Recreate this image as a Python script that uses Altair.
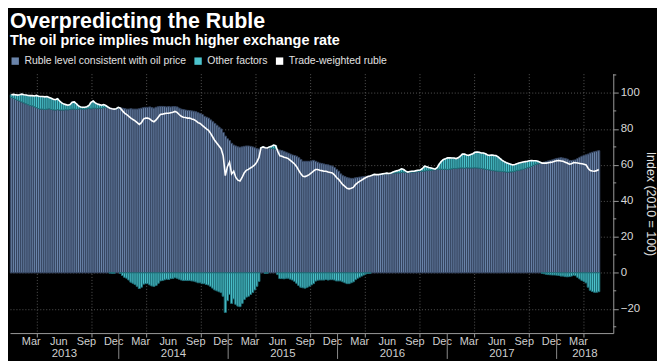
import altair as alt
import pandas as pd

# Weekly readings (Jan 2013 - May 2018)
ruble = [
    99, 99.2, 99, 98.8, 99,
    99.3, 99, 98.8, 98.6, 98.5,
    98.5, 98.3, 98.6, 98.2, 98,
    98, 97.8, 98, 97.5, 97,
    96.5, 96.2, 96.8, 95.5, 94.5,
    93.8, 93.5, 93.2, 93.6, 94.8,
    95, 94, 92.8, 92.2, 92,
    92, 92.3, 93, 94.8, 95.5,
    94.5, 93.8, 93.5, 93.2, 93.5,
    93, 92.2, 91.5, 91.2, 91,
    91.2, 92, 91.5, 90, 88.8,
    88, 87, 86, 85.2, 84.5,
    83.5, 82.5, 83.5, 85.5, 86,
    86, 85.5, 84.5, 84, 85,
    86.5, 88, 88.2, 88.5, 88.7,
    88.7, 89, 89.3, 89.7, 89.2,
    88, 87, 86.5, 86.3, 86,
    86, 85.5, 85.2, 84.5, 83.5,
    83, 82, 81, 80, 79.2,
    77.5, 75.5, 73.5, 72, 70.5,
    69, 65, 54, 59, 61.5,
    55, 56.5, 53, 51.5, 51,
    53, 55.5, 57, 57.5, 58.3,
    59, 60, 61.5, 64, 69.5,
    70, 69.5, 69.4, 70, 70.3,
    71, 70.7, 67.5, 65, 64.8,
    64.2, 64, 63.5, 62.5, 61.5,
    60.5, 59, 57, 55, 53.7,
    53.5, 54, 54.6, 55.5, 56.5,
    57.4, 57.4, 57, 56.8, 56.5,
    56.5, 56, 55.8, 55.5, 54.5,
    53, 52, 50.5, 49, 48,
    47, 46.7, 47, 47.5, 49,
    50, 50.8, 51.5, 52.3, 53,
    53.5, 53.8, 54.2, 54.7, 54.6,
    54.6, 54.8, 55, 55.2, 55.4,
    55.2, 55.5, 56, 56.5, 56.8,
    57.2, 57.8, 57.4, 56.5, 56,
    56.3, 56.5, 56.5, 56.8, 57,
    57.2, 58, 59.3, 59, 58.6,
    58.3, 58, 57.6, 58.5, 60.5,
    62, 63, 63.4, 63.9, 64,
    63.8, 63.8, 63.5, 63.9, 64.8,
    66, 66, 65.5, 65.3, 65.8,
    66.2, 67, 67.2, 67, 66.6,
    66.6, 66.2, 65.5, 65.3, 65.5,
    65.3, 65.2, 64.5, 63.5, 62.5,
    61.8, 61.2, 60.8, 60.4, 60,
    60.2, 60.6, 61, 61.3, 61.6,
    61.8, 62, 62.3, 62.4, 62.3,
    62.3, 62, 61.5, 61, 61,
    61, 61.2, 61.4, 61.6, 62,
    62.3, 62.4, 62.2, 62, 61.5,
    61, 60.4, 60.6, 61.3, 61.2,
    61, 60.8, 60.6, 60.4, 60,
    58, 56.9, 56.6, 56.5, 56.8,
    57.4,
]

oil_level = [
    97.5, 97, 96.5, 96, 95.5,
    95, 94.5, 94, 93.5, 93,
    92.8, 92.3, 91.8, 91.3, 91,
    91, 90.8, 91, 91.2, 90.8,
    90.6, 90.5, 90.7, 90.5, 90.5,
    90.5, 90.7, 90.6, 90.8, 91,
    91, 90.8, 91, 91.2, 91,
    91, 91.2, 91.4, 91.2, 91.5,
    91.5, 91.3, 91.6, 91.5, 91.8,
    92, 91.8, 91.6, 91.4, 91.2,
    91.2, 91.5, 91.8, 91.5, 91.3,
    91, 91, 91.2, 91, 91,
    91, 91.2, 91.5, 91.8, 92,
    92, 92.2, 91.8, 91.5, 92,
    92.3, 92.5, 92.5, 92.4, 92.2,
    92.4, 92.2, 92.4, 92.4, 92.2,
    91.5, 91, 90.8, 90.5, 90.3,
    90.2, 90, 89.8, 89.5, 89,
    88.5, 88, 87, 86.5, 86,
    85, 84, 83, 82, 81,
    80, 78, 76, 74.5, 73.5,
    72, 71, 70.5, 70, 69.8,
    70, 70.3, 70.5, 70.5, 70.3,
    70, 69.5, 69, 68.8, 69.5,
    69.8, 69.8, 69.6, 69.5, 69.2,
    69, 68.8, 68.5, 68.2, 68,
    67.5, 67, 66.5, 66, 65.5,
    65.2, 64.8, 64, 63, 62,
    62, 62, 62, 62.2, 62.5,
    62, 61.5, 61, 60.8, 60.5,
    60.2, 60, 59.6, 59.3, 58.5,
    57.5, 56.5, 55, 54, 53.5,
    53, 52.7, 52.5, 52.5, 52.8,
    53, 53.2, 53.3, 53.5, 53.6,
    53.8, 54, 54.2, 54.5, 54.6,
    54.6, 54.7, 54.8, 55, 55.1,
    55.1, 55.2, 55.4, 55.5, 55.6,
    55.6, 55.8, 56, 55.8, 55.6,
    55.8, 56, 56, 56.2, 56.3,
    56.5, 56.5, 56.6, 56.8, 57,
    57, 57.2, 57.3, 57.5, 57.6,
    57.6, 57.5, 57.6, 57.4, 57.6,
    57.8, 58, 58, 58.2, 58.3,
    58.3, 58.2, 58.4, 58.3, 58.3,
    58.3, 58.4, 58.3, 58.2, 58,
    57.8, 57.6, 57.4, 57.2, 57,
    56.8, 56.6, 56.5, 56.4, 56.3,
    56.2, 56, 56, 56.1, 56.2,
    56.5, 56.8, 57, 57.3, 57.6,
    58, 58.4, 58.7, 59.2, 59.8,
    60.3, 60.6, 61, 61.2, 61.5,
    61.8, 62.2, 62.5, 62.8, 63.2,
    63.6, 63.8, 64, 63.8, 63.6,
    63.2, 62.5, 62.4, 62.6, 62.8,
    63.5, 64.2, 64.8, 65.2, 65.6,
    66, 66.6, 67, 67.3, 67.6,
    67.9,
]

series_names = ["Ruble level consistent with oil price", "Other factors", "Trade-weighted ruble"]
series_colors = ["#6a84aa", "#4cc3cd", "#ffffff"]

month_names = ["Mar", "Jun", "Sep", "Dec"]
years = [2013, 2014, 2015, 2016, 2017, 2018]
y_major = [-20, 0, 20, 40, 60, 80, 100]
y_minor = [-30, -10, 10, 30, 50, 70, 90, 110]

W, H = 607, 261

week_start = pd.date_range("2013-01-04", periods=len(ruble), freq="7D")
df = pd.DataFrame({
    "start": week_start,
    "end": week_start + pd.Timedelta(days=7),
    "mid": week_start + pd.Timedelta(hours=84),
    "ruble": ruble,
    "oil": oil_level,
})

mrows = []
for y in years:
    for m, name in zip([3, 6, 9, 12], month_names):
        if y == 2018 and m > 3:
            continue
        mrows.append({"date": pd.Timestamp(y, m, 15), "label": name})
month_df = pd.DataFrame(mrows)

dom_start = pd.Timestamp(2013, 1, 3)
dom_end = pd.Timestamp(2018, 7, 9)
yrows = []
for y in years:
    a = max(pd.Timestamp(y, 1, 1), dom_start)
    b = min(pd.Timestamp(y + 1, 1, 1), dom_end)
    yrows.append({"date": a + (b - a) / 2, "label": str(y)})
year_df = pd.DataFrame(yrows)
sep_df = pd.DataFrame({"date": [pd.Timestamp(y, 1, 1) for y in years[1:]]})
minor_df = pd.DataFrame({"v": y_minor})

quarters = [alt.DateTime(year=y, month=m, date=1)
            for y in years for m in [1, 4, 7, 10]
            if pd.Timestamp(y, m, 1) > dom_start and pd.Timestamp(y, m, 1) <= dom_end]

xscale = alt.Scale(domain=[alt.DateTime(year=2013, month=1, date=3),
                           alt.DateTime(year=2018, month=7, date=9)], nice=False)
yscale = alt.Scale(domain=[-33.5, 110.7], nice=False, zero=False)
color_scale = alt.Scale(domain=series_names, range=series_colors)

GRID = "#555555"
AX = "#9a9a9a"
FONT = "Liberation Sans"
YT = "Index (2010 = 100)"

xaxis = alt.Axis(values=quarters, labels=False, tickSize=4, grid=True, gridColor=GRID,
                 gridDash=[1, 2], domainColor=AX, tickColor=AX, title=None)
yaxis = alt.Axis(orient="right", values=y_major, tickSize=5,
                 grid=True, gridColor=GRID, gridDash=[1, 2], domainColor=AX, tickColor=AX,
                 labelColor="#d9d9d9", labelFontSize=11.5, labelFont=FONT, labelPadding=2,
                 title=YT, titleAngle=90, titleFontWeight="normal",
                 titleColor="#e0e0e0", titleFontSize=12.5, titleFont=FONT, titlePadding=4)

legend = alt.Legend(orient="top", direction="horizontal", title=None, symbolType="square",
                    symbolSize=55, labelFontSize=10.5, labelColor="#e0e0e0", labelFont=FONT,
                    labelLimit=400, columnPadding=6, offset=7, padding=0, symbolStrokeWidth=0)

color_enc = alt.Color("series:N", scale=color_scale, legend=legend)

base = alt.Chart(df)

blue = base.transform_calculate(series=f"'{series_names[0]}'").mark_bar(
    stroke="#33435d", strokeWidth=1.0).encode(
    x=alt.X("start:T", scale=xscale, axis=xaxis, title=None),
    x2="end:T",
    y=alt.Y("oil:Q", scale=yscale, axis=yaxis, title=YT),
    y2=alt.datum(0),
    color=color_enc,
)

cyan = base.transform_calculate(
    series=f"'{series_names[1]}'",
    c0="datum.ruble >= datum.oil ? datum.oil : 0",
    c1="datum.ruble >= datum.oil ? datum.ruble : datum.ruble - datum.oil",
).mark_bar(stroke="#1f6f78", strokeWidth=1.0).encode(
    x=alt.X("start:T", title=None),
    x2="end:T",
    y=alt.Y("c0:Q", title=YT),
    y2="c1:Q",
    color=color_enc,
)

line = base.transform_calculate(series=f"'{series_names[2]}'").mark_line(strokeWidth=1.6).encode(
    x=alt.X("mid:T", title=None),
    y=alt.Y("ruble:Q", title=YT),
    color=color_enc,
)

minor = alt.Chart(minor_df).mark_rule(color=AX, strokeWidth=1).encode(
    y=alt.Y("v:Q", title=YT), x=alt.value(W), x2=alt.value(W + 3))

months = alt.Chart(month_df).mark_text(color="#cfcfcf", fontSize=11, font=FONT,
                                        baseline="alphabetic", align="center").encode(
    x=alt.X("date:T", title=None), y=alt.value(H + 12), text="label:N")

yearlab = alt.Chart(year_df).mark_text(color="#cfcfcf", fontSize=11.5, font=FONT,
                                        baseline="alphabetic", align="center").encode(
    x=alt.X("date:T", title=None), y=alt.value(H + 24), text="label:N")

seps = alt.Chart(sep_df).mark_rule(color="#8a8a8a", strokeWidth=1).encode(
    x=alt.X("date:T", title=None), y=alt.value(H), y2=alt.value(H + 26))

chart = alt.layer(blue, cyan, line, minor, months, yearlab, seps).properties(
    width=W, height=H,
    background="#000000",
    padding={"left": 0, "top": 2, "right": 0, "bottom": 0},
    title=alt.TitleParams(
        text="Overpredicting the Ruble",
        subtitle="The oil price implies much higher exchange rate",
        anchor="start", font=FONT, fontSize=21.5, fontWeight="bold", color="#ffffff",
        subtitleFont=FONT, subtitleFontSize=14.5, subtitleFontWeight="bold",
        subtitleColor="#ffffff", subtitlePadding=2, offset=8, frame="group",
    ),
).configure_view(stroke=None)

chart.save("out.html", embed_options={"renderer": "svg", "actions": False})
